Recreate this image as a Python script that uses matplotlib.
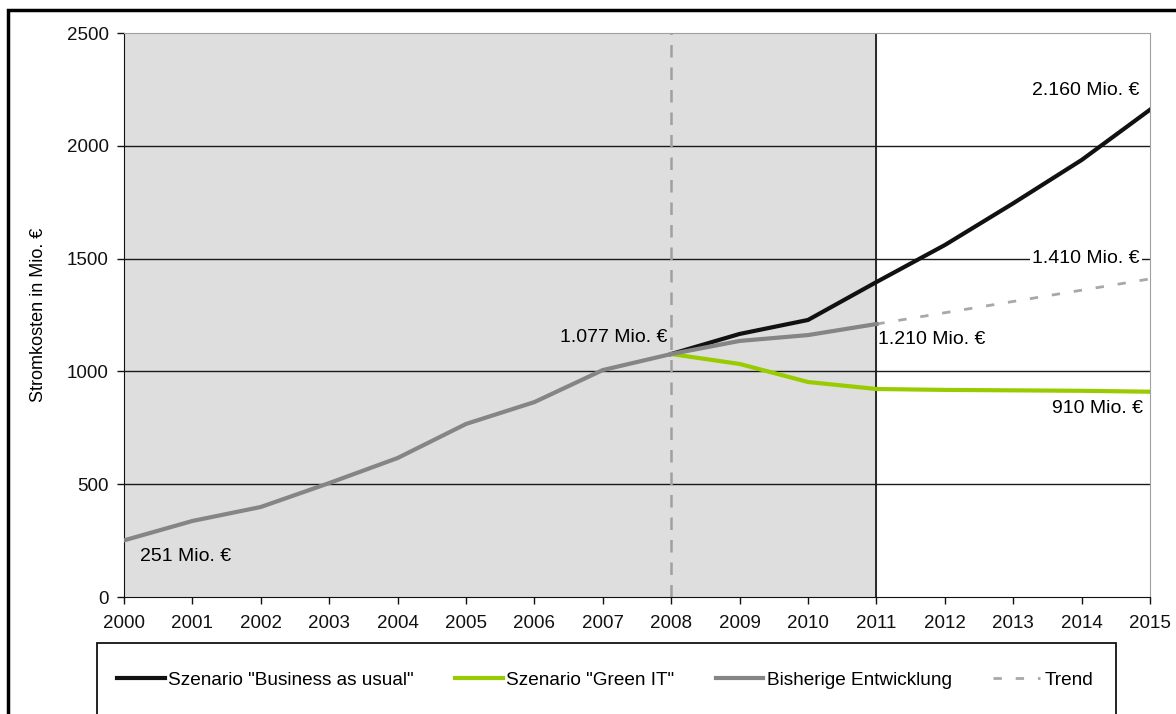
import matplotlib
matplotlib.use('agg')
import matplotlib.pyplot as plt
from matplotlib.patches import Rectangle

plt.rcParams['font.family'] = ['Liberation Sans', 'DejaVu Sans']

# Daten (Stromkosten in Mio. Euro)
years = list(range(2000, 2016))
hist_years = list(range(2000, 2012))
hist_values = [251, 337, 399, 505, 616, 767, 864, 1006, 1077, 1135, 1161, 1210]
bau_years = list(range(2008, 2016))
bau_values = [1077, 1166, 1228, 1396, 1560, 1745, 1937, 2160]
green_years = list(range(2008, 2016))
green_values = [1077, 1033, 953, 922, 918, 916, 914, 910]
trend_years = [2011, 2015]
trend_values = [1210, 1410]

fig = plt.figure(figsize=(11.76, 7.14), dpi=100)
ax = fig.add_axes([124 / 1176, 1 - 597 / 714, 1026 / 1176, 564 / 714])

# grauer Bereich bis 2011
ax.axvspan(2000, 2011, color='#dedede', zorder=0)
ax.axvline(2008, color='#a0a0a0', lw=1.8, ls=(0, (5, 4)), zorder=2)
ax.axvline(2011, color='#1a1a1a', lw=1.3, zorder=2)

for yv in [500, 1000, 1500, 2000]:
    ax.axhline(yv, color='#1a1a1a', lw=1.0, zorder=1)

l_bau, = ax.plot(bau_years, bau_values, color='#111111', lw=3, zorder=4,
                 label='Szenario "Business as usual"')
l_green, = ax.plot(green_years, green_values, color='#99cc00', lw=3, zorder=4,
                   label='Szenario "Green IT"')
l_hist, = ax.plot(hist_years, hist_values, color='#858585', lw=3, zorder=5,
                  label='Bisherige Entwicklung')
l_trend, = ax.plot(trend_years, trend_values, color='#a8a8a8', lw=2,
                   ls=(0, (3, 5)), zorder=4, label='Trend')

ax.set_xlim(2000, 2015)
ax.set_ylim(0, 2500)
ax.set_xticks(years)
ax.set_yticks([0, 500, 1000, 1500, 2000, 2500])
ax.tick_params(axis='both', direction='out', length=5, width=1,
               labelsize=13.5, colors='#111111')
ax.tick_params(axis='x', pad=8)
ax.tick_params(axis='y', pad=6)

for s in ['top', 'right']:
    ax.spines[s].set_color('#a0a0a0')
for s in ['left', 'bottom']:
    ax.spines[s].set_color('#111111')

ax.set_ylabel('Stromkosten in Mio. €', fontsize=13, labelpad=14)

# Beschriftungen
fs = 14
ax.text(2007.95, 1150, '1.077 Mio. €', ha='right', va='center', fontsize=fs)
ax.text(2011.02, 1140, '1.210 Mio. €', ha='left', va='center', fontsize=fs)
ax.text(2014.85, 2245, '2.160 Mio. €', ha='right', va='center', fontsize=fs)
ax.text(2014.85, 1500, '1.410 Mio. €', ha='right', va='center', fontsize=fs,
        bbox=dict(facecolor='white', edgecolor='none', pad=1.5), zorder=6)
ax.text(2014.9, 835, '910 Mio. €', ha='right', va='center', fontsize=fs)
ax.text(2000.23, 180, '251 Mio. €', ha='left', va='center', fontsize=fs)

# Legende: Rahmen separat gezeichnet
fig.patches.append(Rectangle((97 / 1176, -0.05), 1019 / 1176, 0.05 + 1 - 643 / 714,
                             transform=fig.transFigure, fill=False,
                             edgecolor='#111111', lw=1.3))
leg = fig.legend(handles=[l_bau, l_green, l_hist, l_trend],
                 loc='center left', bbox_to_anchor=(117 / 1176, 1 - 680 / 714, 976 / 1176, 0),
                 mode='expand', ncol=4, frameon=False,
                 fontsize=13.7, handlelength=2.5, handletextpad=0.2,
                 borderpad=0, borderaxespad=0)

# Rahmen um die Grafik
fig.patches.append(Rectangle((8 / 1176, -0.1), 1.2, 1.1 - 10 / 714, transform=fig.transFigure,
                             fill=False, edgecolor='black', lw=2.5))

fig.savefig('out.png', dpi=100)
